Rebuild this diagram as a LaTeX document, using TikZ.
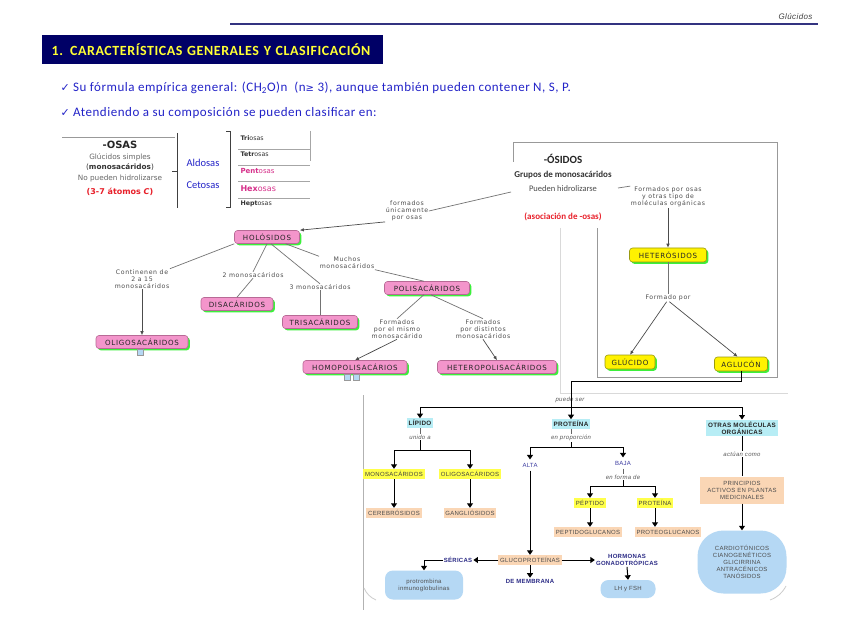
\documentclass[tikz,border=0pt]{standalone}
\usepackage{fontspec}
\setmainfont{Carlito}
\newfontfamily\dvs{DejaVu Sans}
\newfontfamily\vfont[LetterSpace=10]{DejaVu Sans}
\newfontfamily\arl[LetterSpace=5]{Liberation Sans}
\newfontfamily\carl[LetterSpace=4]{Carlito}
\usetikzlibrary{arrows.meta,shadows}

\definecolor{navy}{HTML}{000066}
\definecolor{hdrline}{HTML}{333380}
\definecolor{titleyellow}{HTML}{FFFF33}
\definecolor{bulletblue}{HTML}{2323C8}
\definecolor{osared}{HTML}{E8202A}
\definecolor{osamag}{HTML}{D6308A}
\definecolor{pinkfill}{HTML}{F395CB}
\definecolor{pinkline}{HTML}{B86A96}
\definecolor{shadowgreen}{HTML}{3CF03C}
\definecolor{yellowline}{HTML}{9A9A10}
\definecolor{cyanfill}{HTML}{B7EDF5}
\definecolor{peachfill}{HTML}{FAD6B5}
\definecolor{yfill}{HTML}{FFFF4A}
\definecolor{lblue}{HTML}{B5D8F4}
\definecolor{dblue}{HTML}{2A2A85}
\definecolor{abblue}{HTML}{3A3AA0}

\tikzset{
  osnode/.style={rounded corners=3pt, draw=pinkline, line width=0.6pt, fill=pinkfill,
    general shadow={fill=shadowgreen, shadow xshift=1.8pt, shadow yshift=-1.8pt},
    font=\vfont\fontsize{7.1}{8}\selectfont, text=black!85, inner sep=0pt, minimum height=13pt},
  hetnode/.style={osnode, draw=yellowline, fill=yellow},
  lbl/.style={font=\vfont\fontsize{6.2}{7.2}\selectfont, text=black!70, align=center, inner sep=0.5pt},
  link/.style={draw=black!55, line width=0.7pt},
  arr/.style={link, draw=black!70, -{Latex[length=4pt,width=3.6pt]}},
  bl/.style={line width=1pt, black},
  ba/.style={bl, -{Triangle[length=4.5pt,width=6pt]}},
  cyanbox/.style={fill=cyanfill, font=\arl\bfseries\fontsize{6.3}{7.3}\selectfont, text=black!85, inner sep=1.8pt, align=center},
  peachbox/.style={fill=peachfill, font=\arl\fontsize{6}{7}\selectfont, text=black!70, inner sep=1.8pt, minimum height=10pt},
  ybox/.style={fill=yfill, font=\arl\fontsize{6}{7}\selectfont, text=black!75, inner sep=1.8pt, minimum height=10pt},
  itl/.style={font=\arl\itshape\fontsize{6}{7}\selectfont, text=black!65, inner sep=1pt},
  dbl/.style={font=\arl\bfseries\fontsize{6}{7}\selectfont, text=dblue, align=center, inner sep=1pt},
  bubble/.style={fill=lblue, rounded corners=8pt, font=\arl\fontsize{6}{7}\selectfont, text=black!70, align=center}
}

\begin{document}
\begin{tikzpicture}[x=1pt,y=-1pt]
  \useasboundingbox[fill=white] (0,0) rectangle (848,636);

  % header
  \node[anchor=east, font=\arl\itshape\fontsize{8}{9}\selectfont, text=black!75] (hdr) at (816,17) {Glúcidos};
  \draw[hdrline, line width=1.2pt] (230,24) -- (818,24);
  \node[fill=navy, anchor=west, text width=322pt, inner xsep=9.5pt, minimum height=29pt, align=left,
        text=titleyellow, font=\carl\bfseries\fontsize{14}{15}\selectfont] (tit) at (42,50)
        {1. CARACTERÍSTICAS GENERALES Y CLASIFICACIÓN};
  \node[anchor=west, text=bulletblue, font=\carl\fontsize{13}{15}\selectfont] (b1) at (57,88)
        {{\dvs\fontsize{11}{12}\selectfont ✓} Su fórmula empírica general: (CH\textsubscript{2}O)n\ \ (n{\dvs\fontsize{10}{12}\selectfont ≥} 3), aunque también pueden contener N, S, P.};
  \node[anchor=west, text=bulletblue, font=\carl\fontsize{13}{15}\selectfont] (b2) at (57,113)
        {{\dvs\fontsize{11}{12}\selectfont ✓} Atendiendo a su composición se pueden clasificar en:};

  % -osas
  \draw[black!40, line width=0.6pt] (62,137) -- (175,137);
  \node[font=\dvs\bfseries\fontsize{10}{11}\selectfont, text=black!85] (osas) at (120,145) {-OSAS};
  \node[font=\dvs\fontsize{7.3}{8}\selectfont, text=black!60] (simp) at (120,157) {Glúcidos simples};
  \node[font=\dvs\fontsize{7.3}{8}\selectfont, text=black!80] (mono) at (120,167) {(\textbf{monosacáridos})};
  \node[font=\dvs\fontsize{7.3}{8}\selectfont, text=black!60] (nohi) at (120,178) {No pueden hidrolizarse};
  \node[font=\dvs\bfseries\fontsize{8}{9}\selectfont, text=osared] (atom) at (120,192) {(3-7 átomos \textit{C})};
  \draw[black!75, line width=0.8pt] (177,133) -- (177,208) (172,171) -- (177,171);
  \node[font=\fontsize{10.5}{12}\selectfont, text=bulletblue] (aldo) at (203,163) {Aldosas};
  \node[font=\fontsize{10.5}{12}\selectfont, text=bulletblue] (ceto) at (203,185) {Cetosas};
  \draw[black!75, line width=0.8pt] (226,131) -- (230,131) -- (230,207) -- (226,207);
  \draw[black!35, line width=0.6pt] (238,149) -- (310,149) (238,165) -- (310,165) (238,181) -- (310,181)
        (238,198) -- (310,198) (310,131) -- (310,161);
  \node[anchor=west, font=\dvs\fontsize{6.3}{7}\selectfont, text=black!80] (tri) at (237,138) {\textbf{Tri}osas};
  \node[anchor=west, font=\dvs\fontsize{6.3}{7}\selectfont, text=black!80] (tet) at (237,154) {\textbf{Tetr}osas};
  \node[anchor=west, font=\dvs\fontsize{7}{8}\selectfont, text=osamag] (pen) at (237,171) {\textbf{Pent}osas};
  \node[anchor=west, font=\dvs\fontsize{8}{9}\selectfont, text=osamag] (hex) at (237,189) {\textbf{Hex}osas};
  \node[anchor=west, font=\dvs\fontsize{6.3}{7}\selectfont, text=black!80] (hep) at (237,204) {\textbf{Hept}osas};

  % -osidos
  \draw[black!40, line width=0.6pt] (513,162) -- (513,142) -- (777,142) -- (777,377) -- (597,377) -- (597,228);
  \draw[black!15, line width=0.8pt] (560,228) -- (560,393) -- (788,393);
  \node[font=\bfseries\fontsize{11}{12}\selectfont, text=black!85] (osT) at (563,159) {-ÓSIDOS};
  \node[font=\bfseries\fontsize{9}{10}\selectfont, text=black!80] (osG) at (563,175) {Grupos de monosacáridos};
  \node[font=\fontsize{8.5}{10}\selectfont, text=black!70] (osP) at (563,189) {Pueden hidrolizarse};
  \node[font=\bfseries\fontsize{9}{10}\selectfont, text=osared] (osA) at (563,217) {(asociación de -osas)};
  \coordinate (osL) at (511,192);
  \coordinate (osR) at (618,188);

  % holosidos
  \node[lbl] (unica) at (407,211) {formados\\únicamente\\por osas};
  \node[osnode, minimum width=65pt] (holo) at (267,237) {HOLÓSIDOS};
  \node[lbl] (cont) at (142,279) {Continenen de\\2 a 15\\monosacáridos};
  \node[lbl] (dos) at (253,275) {2 monosacáridos};
  \node[lbl] (tres) at (320,287) {3 monosacáridos};
  \node[lbl] (muchos) at (347,263) {Muchos\\monosacáridos};
  \node[osnode, minimum width=92pt] (oligo) at (142,342) {OLIGOSACÁRIDOS};
  \node[osnode, minimum width=72pt] (disa) at (237,304) {DISACÁRIDOS};
  \node[osnode, minimum width=75pt] (trisa) at (320,322) {TRISACÁRIDOS};
  \node[osnode, minimum width=85pt] (poli) at (427,288) {POLISACÁRIDOS};
  \node[lbl] (mismo) at (397,329) {Formados\\por el mismo\\monosacárido};
  \node[lbl] (dist) at (483,329) {Formados\\por distintos\\monosacáridos};
  \node[osnode, minimum width=104pt] (homo) at (355,367) {HOMOPOLISACÁRIOS};
  \node[osnode, minimum width=119pt] (hetpol) at (497,367) {HETEROPOLISACÁRIDOS};
  \filldraw[fill=lblue, draw=black!40, line width=0.4pt] (137,349) rectangle (143,355);
  \filldraw[fill=lblue, draw=black!40, line width=0.4pt] (344,374) rectangle (350,380);
  \filldraw[fill=lblue, draw=black!40, line width=0.4pt] (353,374) rectangle (359,380);

  \draw[link] (osL) -- (unica.east);
  \draw[arr] (unica.south west) -- (holo.north east);
  \draw[link] (holo.south west) -- (cont.north east);
  \draw[arr] (cont.south) -- (oligo.north);
  \draw[link] (holo.south) -- (dos.north);
  \draw[link] (dos.south) -- (disa.north);
  \draw[link] (holo.-60) -- (tres.north);
  \draw[link] (tres.south) -- (trisa.north);
  \draw[link] (holo.-20) -- (muchos.north west);
  \draw[link] (muchos.south east) -- (poli.115);
  \draw[link] (poli.-115) -- (mismo.north);
  \draw[arr] (mismo.south) -- (homo.north);
  \draw[link] (poli.-60) -- (dist.north);
  \draw[arr] (dist.south) -- (hetpol.north);

  % heterosidos
  \node[lbl] (otr) at (668,197) {Formados por osas\\y otras tipo de\\moléculas orgánicas};
  \node[hetnode, minimum width=77pt, minimum height=14pt] (het) at (668,255) {HETERÓSIDOS};
  \node[lbl] (formado) at (668,298) {Formado por};
  \node[hetnode, minimum width=50pt, minimum height=14pt] (glu) at (630,362) {GLÚCIDO};
  \node[hetnode, minimum width=53pt, minimum height=14pt] (agl) at (741,364) {AGLUCÓN};
  \draw[link] (osR) -- (otr.north west);
  \draw[arr] (otr.south) -- (het.north);
  \draw[link] (het.south) -- (formado.north);
  \draw[arr] (formado.250) -- (glu.north);
  \draw[arr] (formado.-70) -- (agl.115);

  % aglucon
  \draw[black!30, line width=0.6pt] (363,395) -- (363,610);
  \draw[black!20, line width=0.8pt] (364,588) to[bend right=20] (376,600);
  \draw[black!20, line width=0.8pt] (786,586) to[bend left=20] (770,600);
  \node[itl] (puede) at (570,400) {puede ser};
  \node[cyanbox] (lipido) at (420,423) {LÍPIDO};
  \node[cyanbox] (prote) at (571,424) {PROTEÍNA};
  \node[cyanbox] (otras) at (742,428) {OTRAS MOLÉCULAS\\ORGÁNICAS};
  \coordinate (ps) at (571,407);
  \draw[ba] (agl.south) |- (571,381) -- (prote.north);
  \draw[ba] (ps) -| (lipido.north);
  \draw[ba] (ps) -| (otras.north);

  \node[itl] (unido) at (420,437) {unido a};
  \node[ybox] (mono2) at (394,474) {MONOSACÁRIDOS};
  \node[ybox] (oligo2) at (470,474) {OLIGOSACÁRIDOS};
  \node[peachbox] (cere) at (394,513) {CEREBRÓSIDOS};
  \node[peachbox] (gang) at (470,513) {GANGLIÓSIDOS};
  \draw[black!60, line width=0.5pt] (lipido.south) -- (unido.north);
  \draw[bl] (unido.south) -- (420,450);
  \draw[ba] (420,450) -| (mono2.north);
  \draw[ba] (420,450) -| (oligo2.north);
  \draw[ba] (mono2.south) -- (cere.north);
  \draw[ba] (oligo2.south) -- (gang.north);

  \node[itl] (propo) at (571,438) {en proporción};
  \node[font=\arl\fontsize{6}{7}\selectfont, text=abblue] (alta) at (530,465) {ALTA};
  \node[font=\arl\fontsize{6}{7}\selectfont, text=abblue] (baja) at (623,463) {BAJA};
  \node[itl] (forma) at (623,477) {en forma de};
  \node[ybox] (pept) at (590,503) {PÉPTIDO};
  \node[ybox] (prot2) at (655,503) {PROTEÍNA};
  \node[peachbox] (peptg) at (588,532) {PEPTIDOGLUCANOS};
  \node[peachbox] (protg) at (668,532) {PROTEOGLUCANOS};
  \draw[black!60, line width=0.5pt] (prote.south) -- (propo.north);
  \draw[bl] (propo.south) -- (571,447);
  \draw[ba] (571,447) -| (alta.north);
  \draw[ba] (571,447) -| (baja.north);
  \draw[black!60, line width=0.5pt] (baja.south) -- (forma.north);
  \draw[bl] (forma.south) -- (623,486);
  \draw[ba] (623,486) -| (pept.north);
  \draw[ba] (623,486) -| (prot2.north);
  \draw[ba] (pept.south) -- (pept.south |- peptg.north);
  \draw[ba] (prot2.south) -- (prot2.south |- protg.north);

  \node[peachbox] (gluco) at (530,560) {GLUCOPROTEÍNAS};
  \node[dbl] (seri) at (458,560) {SÉRICAS};
  \node[dbl] (memb) at (530,581) {DE MEMBRANA};
  \node[dbl] (horm) at (627,560) {HORMONAS\\GONADOTRÓPICAS};
  \node[bubble, minimum width=78pt, minimum height=29pt] (protro) at (424,585) {protrombina\\inmunoglobulinas};
  \node[bubble, minimum width=55pt, minimum height=18pt] (lh) at (628,589) {LH y FSH};
  \draw[ba] (alta.south) -- (gluco.north);
  \draw[ba] (gluco.west) -- (seri.east);
  \draw[ba] (seri.west) -| (protro.north);
  \draw[ba] (gluco.south) -- (memb.north);
  \draw[ba] (gluco.east) -- (horm.west);
  \draw[ba] (horm.south) -- (lh.north);

  \node[itl] (actu) at (742,454) {actúan como};
  \node[peachbox, align=center, minimum width=84pt, minimum height=27pt] (princ) at (742,490) {PRINCIPIOS\\ACTIVOS EN PLANTAS\\MEDICINALES};
  \node[bubble, rounded corners=26pt, minimum width=89pt, minimum height=63pt] (cardio) at (742,562)
        {CARDIOTÓNICOS\\CIANOGENÉTICOS\\GLICIRRINA\\ANTRACÉNICOS\\TANÓSIDOS};
  \draw[bl] (otras.south) -- (actu.north);
  \draw[bl] (actu.south) -- (princ.north);
  \draw[ba] (princ.south) -- (cardio.north);
\end{tikzpicture}
\end{document}
